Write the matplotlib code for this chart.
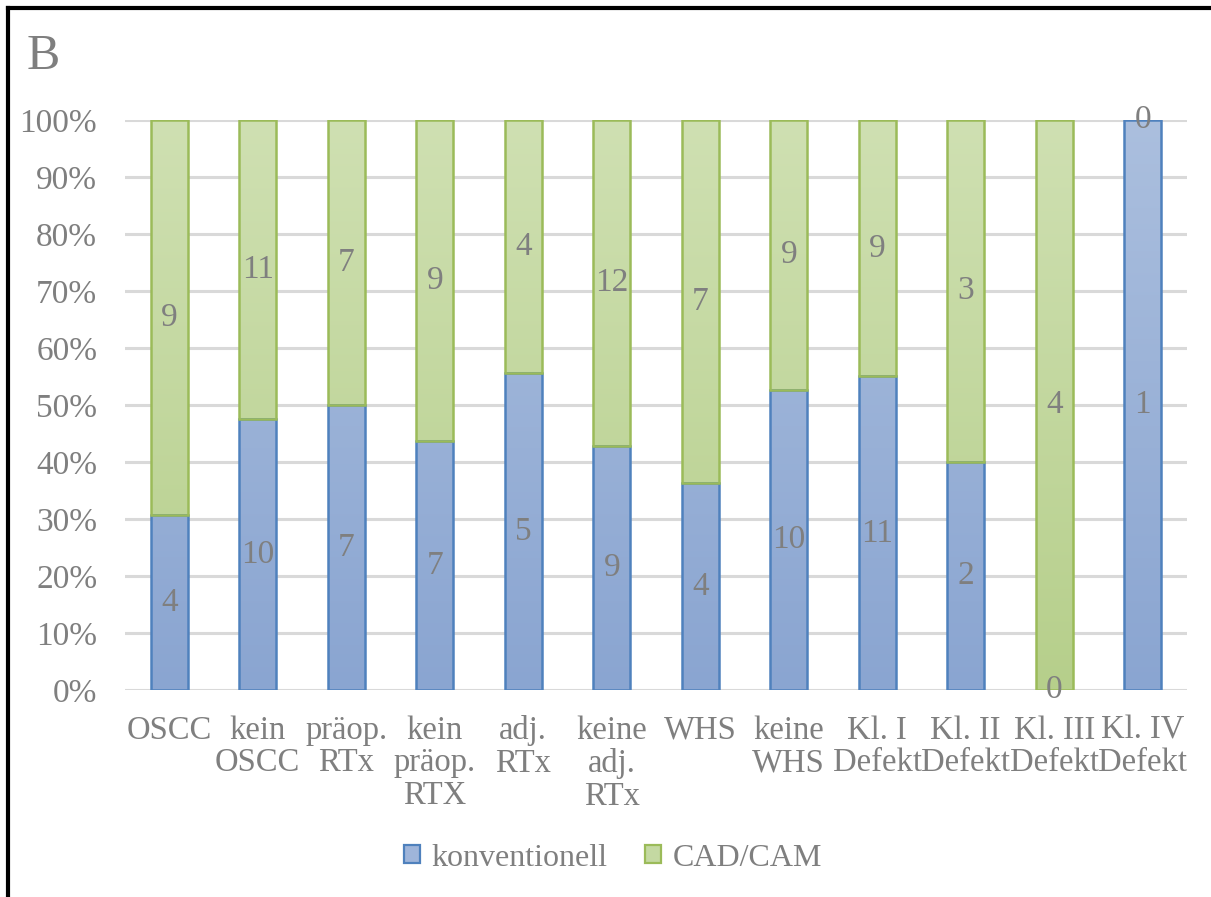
import numpy as np
import matplotlib
matplotlib.use("Agg")
import matplotlib.pyplot as plt
from matplotlib.colors import LinearSegmentedColormap
from matplotlib.lines import Line2D

categories = ["OSCC", "kein\nOSCC", "präop.\nRTx", "kein\npräop.\nRTX", "adj.\nRTx",
              "keine\nadj.\nRTx", "WHS", "keine\nWHS", "Kl. I\nDefekt", "Kl. II\nDefekt",
              "Kl. III\nDefekt", "Kl. IV\nDefekt"]
konventionell = [4, 10, 7, 7, 5, 9, 4, 10, 11, 2, 0, 1]
cadcam = [9, 11, 7, 9, 4, 12, 7, 9, 9, 3, 4, 0]
series_names = ["konventionell", "CAD/CAM"]

plt.rcParams["font.family"] = ["Liberation Serif", "DejaVu Serif"]
TXT = "#7f7f7f"
FS = 24

fig = plt.figure(figsize=(12.11, 8.97), dpi=100)
ax = fig.add_axes([125 / 1211, 1 - 690 / 897, (1187 - 125) / 1211, (690 - 120) / 897])

conv = np.array(konventionell, float)
cad = np.array(cadcam, float)
tot = conv + cad
p_conv = conv / tot * 100
p_cad = cad / tot * 100
x = np.arange(len(categories))
w = 0.42

blue_cmap = LinearSegmentedColormap.from_list("b", ["#8aa5d1", "#abbfde"])
green_cmap = LinearSegmentedColormap.from_list("g", ["#b6cf8b", "#cfe0b2"])
grad = np.linspace(0, 1, 256).reshape(-1, 1)


def gradient_bars(bars, cmap, edge):
    for b in bars:
        h = b.get_height()
        if h <= 0:
            continue
        b.set_facecolor("none")
        b.set_edgecolor(edge)
        b.set_linewidth(1.8)
        x0 = b.get_x()
        im = ax.imshow(grad, cmap=cmap, origin="lower", aspect="auto",
                       extent=(x0, x0 + b.get_width(), 0, 100), zorder=2,
                       interpolation="bilinear")
        im.set_clip_path(b)
        b.set_zorder(3)


bars_c = ax.bar(x, p_conv, w, label=series_names[0])
bars_g = ax.bar(x, p_cad, w, bottom=p_conv, label=series_names[1])
gradient_bars(bars_c, blue_cmap, "#4f81bd")
gradient_bars(bars_g, green_cmap, "#9bbb59")

for i in range(len(x)):
    yc = p_conv[i] / 2
    yg = p_conv[i] + p_cad[i] / 2
    ax.text(x[i], yc, f"{konventionell[i]}", ha="center", va="center",
            fontsize=FS, color=TXT, zorder=5)
    ax.text(x[i], yg, f"{cadcam[i]}", ha="center", va="center",
            fontsize=FS, color=TXT, zorder=5)

ax.set_xlim(-0.5, len(x) - 0.5)
ax.set_ylim(0, 100)
ax.set_yticks(np.arange(0, 101, 10))
ax.set_yticklabels([f"{v}%" for v in range(0, 101, 10)])
ax.yaxis.grid(True, color="#d9d9d9", linewidth=2.2, zorder=0)
ax.set_axisbelow(True)
for s in ax.spines.values():
    s.set_visible(False)
ax.tick_params(axis="y", length=0, labelsize=FS, labelcolor=TXT, pad=20)
ax.set_xticks(x)
ax.set_xticklabels(categories, fontsize=23.5, color=TXT, linespacing=1.1, va="top")
ax.tick_params(axis="x", length=0, pad=18)

handles = [plt.Rectangle((0, 0), 1, 1, facecolor="#9fb5da", edgecolor="#4f81bd", linewidth=1.6),
           plt.Rectangle((0, 0), 1, 1, facecolor="#c4d9a2", edgecolor="#9bbb59", linewidth=1.6)]
fig.legend(handles, series_names, loc="center", bbox_to_anchor=(613 / 1211, 1 - 858 / 897),
           ncol=2, frameon=False, fontsize=23, handlelength=0.5, handleheight=0.5,
           handletextpad=0.35, columnspacing=1.2, labelcolor=TXT)

fig.text(27 / 1211, 1 - 57 / 897, "B", fontsize=36, color=TXT, va="center", ha="left")

# left and top frame lines
fig.add_artist(Line2D([7.5 / 1211, 7.5 / 1211], [0, 1 - 8 / 897], color="black", linewidth=3,
                      transform=fig.transFigure))
fig.add_artist(Line2D([7.5 / 1211, 1], [1 - 8 / 897, 1 - 8 / 897], color="black", linewidth=3,
                      transform=fig.transFigure))

fig.savefig("out.png", dpi=100)
